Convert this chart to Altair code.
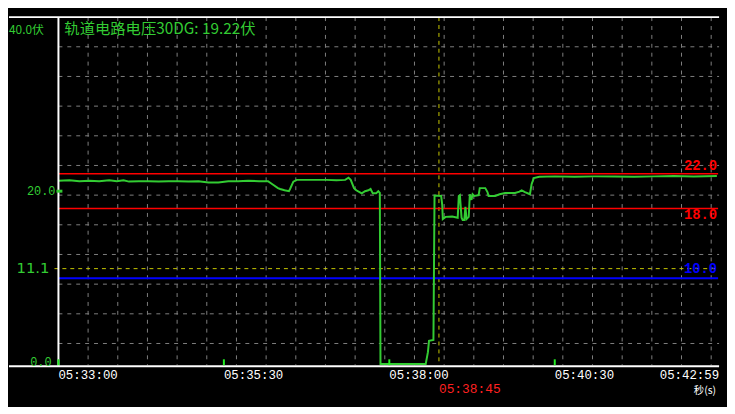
import altair as alt
import pandas as pd

# ---- data ----
# seconds after 05:33:00, and volts
t_sec = [0, 10, 19, 28, 37, 46, 53, 59, 64, 73, 82, 91, 100, 109, 118, 127, 136, 145, 154, 163,
         172, 182, 190, 194, 199, 201, 205, 209, 210, 213, 216, 225, 234, 243, 252, 260, 263, 265,
         268, 270, 273, 275, 278, 281, 283, 285, 288, 290, 291.4, 292, 333, 335, 336, 340, 341,
         347, 348, 348.5, 351, 357, 362, 363, 364, 365.5, 366.5, 368, 369, 370, 372, 373, 374.5,
         375.5, 377, 381, 382, 387, 389, 390, 396, 400, 405, 414, 418, 420, 423, 427.5, 429, 431,
         436, 450, 468, 486, 504, 522, 540, 558, 576, 597]
volts = [21.2, 21.25, 21.15, 21.2, 21.15, 21.25, 21.15, 21.25, 21.1, 21.15, 21.15, 21.1, 21.15,
         21.15, 21.1, 21.15, 21.0, 21.0, 21.15, 21.15, 21.2, 21.15, 21.15, 20.8, 20.35, 20.25,
         20.1, 20.0, 20.25, 21.1, 21.3, 21.3, 21.3, 21.3, 21.25, 21.3, 21.55, 21.3, 20.35, 20.1,
         19.9, 19.75, 20.0, 20.1, 20.25, 19.75, 19.75, 20.0, 19.8, 0.15, 0.15, 1.5, 2.8, 2.9,
         19.5, 19.45, 18.4, 16.8, 17.05, 17.1, 16.95, 19.45, 19.55, 16.95, 16.7, 16.7, 18.2,
         16.8, 17.05, 19.65, 19.0, 19.65, 19.45, 19.55, 20.35, 20.35, 19.9, 19.45, 19.45, 19.65,
         19.8, 19.8, 19.95, 20.1, 19.9, 19.65, 20.8, 21.5, 21.65, 21.7, 21.65, 21.7, 21.7, 21.65,
         21.7, 21.75, 21.7, 21.75]

tick_secs = [0, 150, 300, 450]
tick_labels = ["05:33:00", "05:35:30", "05:38:00", "05:40:30"]
end_sec = 599
end_label = "05:42:59"
cursor_sec = 345
cursor_label = "05:38:45"

limit_values = [22.0, 18.0]
limit_labels = ["22.0", "18.0"]
low_value = 10.0
low_label = "10.0"
dash_value = 11.1
title_text = "轨道电路电压30DG: 19.22伏"

W, H = 668, 352
GREEN = "#33cc33"
xs = alt.Scale(domain=[0, end_sec], range=[0, W], nice=False, zero=False)
ys = alt.Scale(domain=[0, 40], range=[H, 0], nice=False, zero=False)
X = lambda f: alt.X(f, scale=xs, axis=None)
Y = lambda f: alt.Y(f, scale=ys, axis=None)
MONO = "Liberation Mono"

line_df = pd.DataFrame({"t": t_sec, "v": volts})

# grid (pixel-based, decoration)
hgrid = alt.Chart(pd.DataFrame({"gy": list(range(30, H, 30))})).mark_rule(
    color="#808080", strokeDash=[4, 5], strokeWidth=1).encode(
    y=alt.Y("gy:Q", scale=None), x=alt.value(0), x2=alt.value(W))
vgrid = alt.Chart(pd.DataFrame({"gx": list(range(30, W, 30))})).mark_rule(
    color="#808080", strokeDash=[4, 5], strokeWidth=1).encode(
    x=alt.X("gx:Q", scale=None), y=alt.value(0), y2=alt.value(H))

limits_df = pd.DataFrame({"v": limit_values, "lab": limit_labels})
red_rules = alt.Chart(limits_df).mark_rule(color="#ff0000", strokeWidth=1.5).encode(
    y=Y("v:Q"), x=alt.value(0), x2=alt.value(W - 1))
red_text1 = alt.Chart(limits_df.iloc[[0]]).mark_text(
    color="#ff0000", font=MONO, fontSize=14, fontWeight="bold", align="right", baseline="middle", dy=-8
).encode(y=Y("v:Q"), x=alt.value(W - 2), text="lab:N")
red_text2 = alt.Chart(limits_df.iloc[[1]]).mark_text(
    color="#ff0000", font=MONO, fontSize=14, fontWeight="bold", align="right", baseline="middle", dy=7
).encode(y=Y("v:Q"), x=alt.value(W - 2), text="lab:N")

low_df = pd.DataFrame({"v": [low_value], "lab": [low_label]})
blue_rule = alt.Chart(low_df).mark_rule(color="#0000ff", strokeWidth=2).encode(
    y=Y("v:Q"), x=alt.value(0), x2=alt.value(W - 1))
blue_text = alt.Chart(low_df).mark_text(
    color="#0000ff", font=MONO, fontSize=14, fontWeight="bold", align="right", baseline="middle", dy=-9
).encode(y=Y("v:Q"), x=alt.value(W - 2), text="lab:N")

dash_df = pd.DataFrame({"v": [dash_value], "lab": [f"{dash_value:.1f}"]})
yellow_rule = alt.Chart(dash_df).mark_rule(color="#c8c800", strokeDash=[4, 4], strokeWidth=1).encode(
    y=Y("v:Q"), x=alt.value(-4), x2=alt.value(W - 1))
yellow_text = alt.Chart(dash_df).mark_text(
    color=GREEN, font="DejaVu Sans", fontSize=15, align="right", baseline="middle", dy=-1
).encode(y=Y("v:Q"), x=alt.value(-9), text="lab:N")

cursor_df = pd.DataFrame({"t": [cursor_sec], "lab": [cursor_label]})
cursor_rule = alt.Chart(cursor_df).mark_rule(color="#c8c800", strokeDash=[4, 4], strokeWidth=1).encode(
    x=X("t:Q"), y=alt.value(0), y2=alt.value(H))
cursor_text = alt.Chart(cursor_df).mark_text(
    color="#ff2020", font=MONO, fontSize=13, align="left", baseline="middle"
).encode(x=X("t:Q"), y=alt.value(H + 24), text="lab:N")

line = alt.Chart(line_df).mark_line(color=GREEN, strokeWidth=2, interpolate="linear").encode(
    x=X("t:Q"), y=Y("v:Q"))

# frame
frame_top = alt.Chart(pd.DataFrame({"a": [0]})).mark_rule(color="white", strokeWidth=2).encode(
    x=alt.value(-50), x2=alt.value(W), y=alt.value(0))
frame_bot = alt.Chart(pd.DataFrame({"a": [0]})).mark_rule(color="white", strokeWidth=2).encode(
    x=alt.value(-50), x2=alt.value(W), y=alt.value(H + 1))
frame_left = alt.Chart(pd.DataFrame({"a": [0]})).mark_rule(color="white", strokeWidth=2).encode(
    x=alt.value(0), y=alt.value(0), y2=alt.value(H + 1))

# x ticks and labels
ticks_df = pd.DataFrame({"t": tick_secs, "lab": tick_labels})
xticks = alt.Chart(ticks_df).mark_rule(color="#22ee22", strokeWidth=2).encode(
    x=X("t:Q"), y=alt.value(H - 6), y2=alt.value(H))
xlabels = alt.Chart(ticks_df).mark_text(
    color="white", font=MONO, fontSize=12.5, align="left", baseline="middle"
).encode(x=X("t:Q"), y=alt.value(H + 10), text="lab:N")
end_df = pd.DataFrame({"t": [end_sec], "lab": [end_label]})
end_label_m = alt.Chart(end_df).mark_text(
    color="white", font=MONO, fontSize=12.5, align="right", baseline="middle"
).encode(x=X("t:Q"), y=alt.value(H + 10), text="lab:N")
unit_label = alt.Chart(end_df).mark_text(
    color="white", font="Noto Sans CJK SC", fontSize=10.5, align="right", baseline="middle", dx=-3
).encode(x=X("t:Q"), y=alt.value(H + 26), text=alt.value("秒(s)"))

# y labels
ylab_df = pd.DataFrame({"v": [20.0, 0.0], "lab": ["20.0", "0.0"]})
ylab20 = alt.Chart(ylab_df.iloc[[0]]).mark_text(
    color=GREEN, font=MONO, fontSize=12, align="right", baseline="middle"
).encode(y=Y("v:Q"), x=alt.value(-3), text="lab:N")
ylab0 = alt.Chart(ylab_df.iloc[[1]]).mark_text(
    color=GREEN, font=MONO, fontSize=12, align="right", baseline="middle", dy=-3
).encode(y=Y("v:Q"), x=alt.value(-7), text="lab:N")
mark20 = alt.Chart(ylab_df.iloc[[0]]).mark_rule(color=GREEN, strokeWidth=3).encode(
    y=Y("v:Q"), x=alt.value(-2), x2=alt.value(4))
top_label = alt.Chart(pd.DataFrame({"v": [40.0], "lab": ["40.0伏"]})).mark_text(
    color=GREEN, font="Noto Sans CJK SC", fontSize=12, align="left", baseline="middle", dy=13
).encode(y=Y("v:Q"), x=alt.value(-50), text="lab:N")
title = alt.Chart(pd.DataFrame({"lab": [title_text]})).mark_text(
    color=GREEN, font="Noto Sans CJK SC", fontSize=15.5, align="left", baseline="middle"
).encode(x=alt.value(6), y=alt.value(12), text="lab:N")

chart = alt.layer(
    hgrid, vgrid, yellow_rule, cursor_rule, red_rules, blue_rule, line,
    frame_top, frame_bot, frame_left, xticks, mark20,
    red_text1, red_text2, blue_text, yellow_text, cursor_text, xlabels, end_label_m, unit_label,
    ylab20, ylab0, top_label, title,
).properties(
    width=W, height=H, autosize="none",
    padding={"left": 51, "top": 7, "right": 8, "bottom": 40},
    background="black",
).configure_view(stroke=None)

chart.save("out.html", embed_options={"renderer": "svg", "actions": False})
